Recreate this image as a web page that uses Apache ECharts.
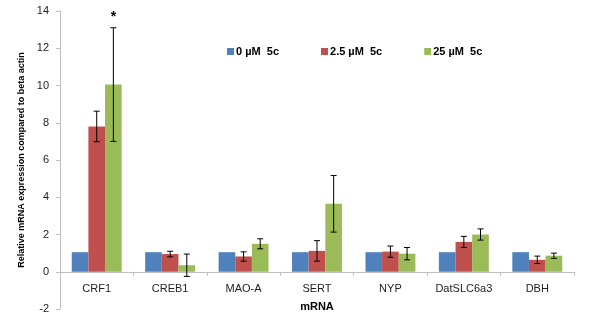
<!DOCTYPE html>
<html>
<head>
<meta charset="utf-8">
<script src="https://cdn.jsdelivr.net/npm/echarts@6/dist/echarts.min.js"></script>
<style>html,body{margin:0;padding:0;background:#fff}#chart{width:600px;height:320px}</style>
</head>
<body>
<div id="chart"></div>
<script>
const categories = ['CRF1', 'CREB1', 'MAO-A', 'SERT', 'NYP', 'DatSLC6a3', 'DBH'];
const seriesNames = ['0 \u00b5M  5c', '2.5 \u00b5M  5c', '25 \u00b5M  5c'];
const dose0 = [1.05, 1.05, 1.05, 1.05, 1.05, 1.05, 1.05];
const dose25 = [7.8, 0.95, 0.82, 1.12, 1.08, 1.6, 0.64];
const dose250 = [10.05, 0.35, 1.5, 3.65, 0.97, 2.0, 0.86];
const err0 = [0, 0, 0, 0, 0, 0, 0];
const err25 = [0.82, 0.15, 0.25, 0.55, 0.3, 0.3, 0.2];
const err250 = [3.05, 0.6, 0.27, 1.52, 0.33, 0.3, 0.14];
const sig250 = ['*', '', '', '', '', '', ''];
const yTicks = { min: -2, max: 14, interval: 2 };

const colors = ['#4F81BD', '#C0504D', '#9BBB59'];
const values = [dose0, dose25, dose250];
const errors = [err0, err25, err250];
const sigs = [[], [], sig250];
const catGap = 0.32;
const font = 'Liberation Sans, Arial, sans-serif';

const chart = echarts.init(document.getElementById('chart'));

// error bars drawn over each bar of a group
function errorSeries(idx) {
  const data = categories.map((c, i) => [i, values[idx][i], errors[idx][i], sigs[idx][i] || '']);
  return {
    type: 'custom',
    name: seriesNames[idx] + ' err',
    z: 10,
    silent: true,
    data: data,
    encode: { x: 0, y: 1 },
    renderItem: (params, api) => {
      const i = api.value(0);
      const v = api.value(1);
      const e = api.value(2);
      const band = api.size([1, 0])[0];
      const bw = band * (1 - catGap) / 3;
      const base = api.coord([i, v]);
      const x = base[0] + (idx - 1) * bw;
      const children = [];
      if (e > 0) {
        const top = api.coord([i, v + e])[1];
        const bot = api.coord([i, v - e])[1];
        const st = { stroke: '#000', lineWidth: 1 };
        children.push(
          { type: 'line', shape: { x1: x, y1: top, x2: x, y2: bot }, style: st },
          { type: 'line', shape: { x1: x - 3, y1: top, x2: x + 3, y2: top }, style: st },
          { type: 'line', shape: { x1: x - 3, y1: bot, x2: x + 3, y2: bot }, style: st }
        );
      }
      const s = data[params.dataIndex][3];
      if (s) {
        const top = api.coord([i, v + e])[1];
        children.push({
          type: 'text',
          style: { text: s, x: x, y: top - 4, align: 'center', verticalAlign: 'bottom',
                   fill: '#000', font: 'bold 14px ' + font }
        });
      }
      return { type: 'group', children: children };
    }
  };
}

const barSeries = values.map((vals, idx) => ({
  type: 'bar',
  name: seriesNames[idx],
  data: vals,
  barGap: '0%',
  barCategoryGap: (catGap * 100) + '%',
  itemStyle: { color: colors[idx] }
}));

chart.setOption({
  animation: false,
  grid: { left: 60, right: 26, top: 11, bottom: 11, containLabel: false, outerBoundsMode: 'none' },
  legend: {
    data: seriesNames,
    top: 41,
    left: 222,
    itemGap: 42,
    itemWidth: 7,
    itemHeight: 7,
    icon: 'rect',
    textStyle: { fontFamily: font, fontSize: 11, fontWeight: 'bold', color: '#000', padding: [0, 0, 0, -3] }
  },
  xAxis: {
    type: 'category',
    data: categories,
    name: 'mRNA',
    nameLocation: 'middle',
    nameGap: -8,
    nameTextStyle: { fontFamily: font, fontSize: 11, fontWeight: 'bold', color: '#000' },
    axisLine: { onZero: true, lineStyle: { color: '#bfbfbf' } },
    axisTick: { show: true, alignWithLabel: false, length: 4, lineStyle: { color: '#bfbfbf' } },
    axisLabel: { interval: 0, fontFamily: font, fontSize: 11, color: '#222', margin: -26 }
  },
  yAxis: {
    type: 'value',
    min: yTicks.min,
    max: yTicks.max,
    interval: yTicks.interval,
    name: 'Relative mRNA expression compared to beta actin',
    nameLocation: 'middle',
    nameGap: 33,
    nameTextStyle: { fontFamily: font, fontSize: 9, fontWeight: 'bold', color: '#000' },
    axisLine: { show: true, lineStyle: { color: '#bfbfbf' } },
    axisTick: { show: true, length: 4, lineStyle: { color: '#bfbfbf' } },
    splitLine: { show: false },
    axisLabel: { fontFamily: font, fontSize: 11, color: '#222', margin: 11 }
  },
  series: barSeries.concat([0, 1, 2].map(errorSeries))
});
</script>
</body>
</html>
